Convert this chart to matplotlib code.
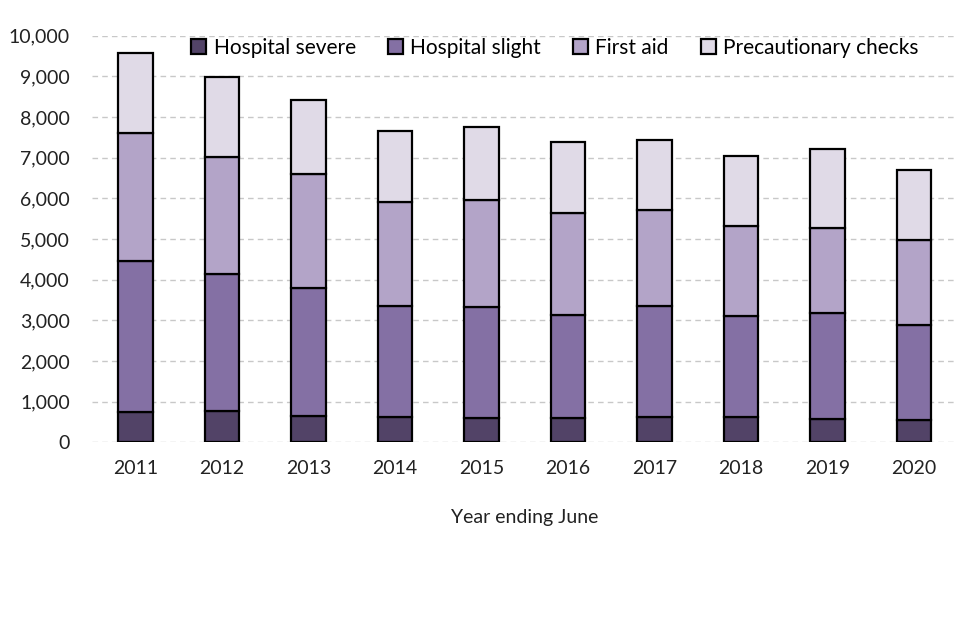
import matplotlib.pyplot as plt
import numpy as np

years = ['2011', '2012', '2013', '2014', '2015', '2016', '2017', '2018', '2019', '2020']
hospital_severe = [755, 780, 657, 616, 600, 600, 624, 624, 575, 542]
hospital_slight = [3703, 3366, 3144, 2734, 2717, 2536, 2726, 2488, 2594, 2340]
first_aid = [3153, 2874, 2808, 2553, 2635, 2504, 2364, 2216, 2102, 2085]
precautionary = [1978, 1970, 1823, 1765, 1798, 1757, 1716, 1716, 1954, 1741]

series = [
    ('Hospital severe', hospital_severe, '#524367'),
    ('Hospital slight', hospital_slight, '#8470A4'),
    ('First aid', first_aid, '#B3A4C8'),
    ('Precautionary checks', precautionary, '#E0DAE7'),
]

plt.rcParams['font.family'] = ['Lato', 'DejaVu Sans']

fig = plt.figure(figsize=(9.6, 6.4), dpi=100)
ax = fig.add_axes([0.096, 0.309, 0.901, 0.635])

x = np.arange(len(years))
bottom = np.zeros(len(years))
for label, vals, color in series:
    ax.bar(x, vals, width=0.4, bottom=bottom, color=color, edgecolor='black',
           linewidth=1.6, label=label, zorder=3)
    bottom += np.array(vals)

ax.set_ylim(0, 10000)
ax.set_xlim(-0.5, len(years) - 0.5)
ax.set_yticks(np.arange(0, 10001, 1000))
ax.set_yticklabels([f'{v:,}' for v in range(0, 10001, 1000)])
ax.set_xticks(x)
ax.set_xticklabels(years)
ax.tick_params(axis='both', length=0, labelsize=14, colors='#222222')
ax.tick_params(axis='x', pad=13)
ax.tick_params(axis='y', pad=16)
ax.yaxis.grid(True, linestyle=(0, (4, 3)), color='#C8C8C8', linewidth=1, zorder=0)
for s in ax.spines.values():
    s.set_visible(False)

ax.set_xlabel('Year ending June', fontsize=14, color='#222222', labelpad=23)

ax.legend(loc='center', bbox_to_anchor=(0.535, 0.97), ncol=4, frameon=False,
          fontsize=15, handlelength=0.72, handleheight=0.72, handletextpad=0.34,
          columnspacing=1.55)

fig.savefig('out.png', dpi=100)
